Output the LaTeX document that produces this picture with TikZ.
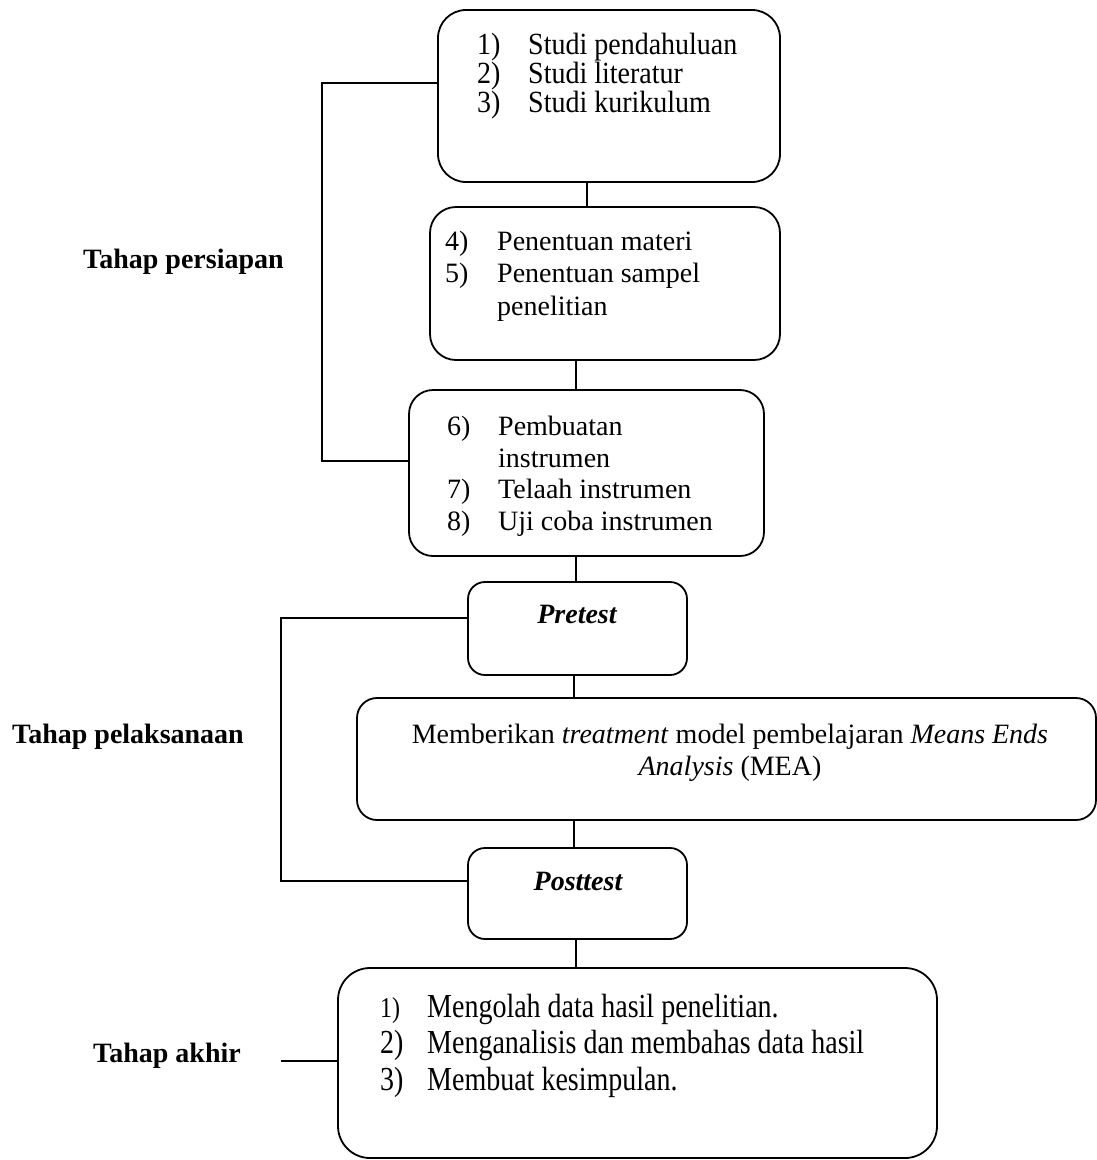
\documentclass[tikz,border=0pt]{standalone}
\usepackage{fontspec}
\usepackage{graphicx}
\setmainfont{Liberation Serif}
\newcommand{\vstr}[1]{\scalebox{1}[1.2]{#1}}
\newcommand{\vstrb}[1]{\scalebox{1}[1.1]{#1}}
\begin{document}
\begin{tikzpicture}[x=1pt,y=-1pt,
  ln/.style={line width=1.8pt,black},
  box/.style={draw,line width=1.8pt,inner sep=0pt,outer sep=0pt},
  txt/.style={inner sep=0pt,anchor=base west,font=\fontsize{28}{30}\selectfont},
  ctxt/.style={inner sep=0pt,anchor=base,font=\fontsize{28}{30}\selectfont},
  lbl/.style={inner sep=0pt,anchor=base west,font=\fontsize{28}{30}\selectfont\bfseries}]
\useasboundingbox (0,0) rectangle (1097,1160);
% boxes
\node[box,rounded corners=28pt,minimum width=342pt,minimum height=172pt] (b1) at (609,96) {};
\node[box,rounded corners=26pt,minimum width=350pt,minimum height=153pt] (b2) at (605,283.5) {};
\node[box,rounded corners=24pt,minimum width=355pt,minimum height=166pt] (b3) at (586.5,473) {};
\node[box,rounded corners=17pt,minimum width=219pt,minimum height=93pt] (pre) at (577.5,628.5) {};
\node[box,rounded corners=20pt,minimum width=739pt,minimum height=122pt] (mea) at (726.5,759) {};
\node[box,rounded corners=17pt,minimum width=219pt,minimum height=91pt] (post) at (577.5,893.5) {};
\node[box,rounded corners=32pt,minimum width=599pt,minimum height=190pt] (fin) at (637.5,1063) {};
% texts box 1
\node[txt] (n1) at (477,54) {\vstrb{1)}};
\node[txt] (s1) at (528,54) {\vstrb{Studi pendahuluan}};
\node[txt] (n2) at (477,83) {\vstrb{2)}};
\node[txt] (s2) at (528,83) {\vstrb{Studi literatur}};
\node[txt] (n3) at (477,112) {\vstrb{3)}};
\node[txt] (s3) at (528,112) {\vstrb{Studi kurikulum}};
% box 2
\node[txt] (n4) at (445,250) {4)};
\node[txt] (s4) at (497,250) {Penentuan materi};
\node[txt] (n5) at (445,282) {5)};
\node[txt] (s5) at (497,282) {Penentuan sampel};
\node[txt] (s5b) at (497,315) {penelitian};
% box 3
\node[txt] (n6) at (447,435) {6)};
\node[txt] (s6) at (498,435) {Pembuatan};
\node[txt] (s6b) at (498,467) {instrumen};
\node[txt] (n7) at (447,498) {7)};
\node[txt] (s7) at (498,498) {Telaah instrumen};
\node[txt] (n8) at (447,530) {8)};
\node[txt] (s8) at (498,530) {Uji coba instrumen};
% pretest / posttest
\node[ctxt,font=\fontsize{28}{30}\selectfont\bfseries\itshape] (tpre) at (577,623) {Pretest};
\node[ctxt,font=\fontsize{28}{30}\selectfont\bfseries\itshape] (tpost) at (578,890) {Posttest};
% MEA
\node[ctxt] (m1) at (730,743) {Memberikan \textit{treatment} model pembelajaran \textit{Means Ends}};
\node[ctxt] (m2) at (730,775) {\textit{Analysis} (MEA)};
% final box
\node[txt,font=\fontsize{24}{26}\selectfont] (f1n) at (380,1017) {\vstr{1)}};
\node[txt] (f1) at (427,1017) {\vstr{Mengolah data hasil penelitian.}};
\node[txt] (f2n) at (380,1053) {\vstr{2)}};
\node[txt] (f2) at (427,1053) {\vstr{Menganalisis dan membahas data hasil}};
\node[txt] (f3n) at (380,1090) {\vstr{3)}};
\node[txt] (f3) at (427,1090) {\vstr{Membuat kesimpulan.}};
% labels
\node[lbl] (lp) at (83,268) {Tahap persiapan};
\node[lbl] (ll) at (12,743) {Tahap pelaksanaan};
\node[lbl] (la) at (93,1062) {Tahap akhir};
% connectors
\draw[ln] (587,0 |- b1.south) -- (587,0 |- b2.north);
\draw[ln] (576,0 |- b2.south) -- (576,0 |- b3.north);
\draw[ln] (576,0 |- b3.south) -- (576,0 |- pre.north);
\draw[ln] (574,0 |- pre.south) -- (574,0 |- mea.north);
\draw[ln] (574,0 |- mea.south) -- (574,0 |- post.north);
\draw[ln] (576,0 |- post.south) -- (576,0 |- fin.north);
% brackets
\coordinate (k1a) at (322,83);
\coordinate (k1b) at (322,461);
\draw[ln] (b1.west |- k1a) -- (k1a) -- (k1b) -- (b3.west |- k1b);
\coordinate (k2a) at (281,618);
\coordinate (k2b) at (281,881);
\draw[ln] (pre.west |- k2a) -- (k2a) -- (k2b) -- (post.west |- k2b);
\coordinate (k3) at (281,1061);
\draw[ln] (k3) -- (fin.west |- k3);
\end{tikzpicture}
\end{document}
